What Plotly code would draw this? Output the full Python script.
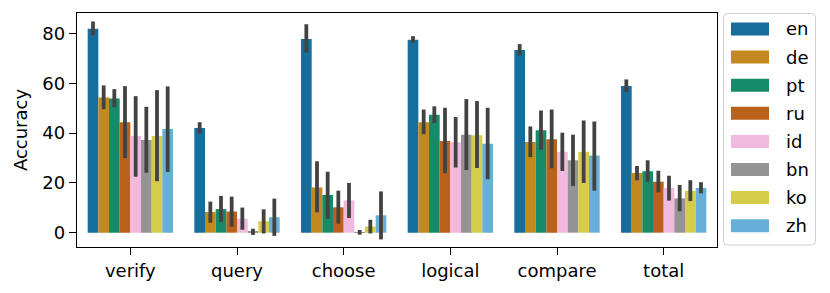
import plotly.graph_objects as go

categories = ["verify", "query", "choose", "logical", "compare", "total"]
languages = ["en", "de", "pt", "ru", "id", "bn", "ko", "zh"]
colors = ["#176d9c", "#c38820", "#158b6a", "#ba611b", "#f1b8e0", "#949494", "#d5cd4a", "#68afd7"]

# mean accuracy per language, per category (verify, query, choose, logical, compare, total)
acc_en = [82.0, 42.1, 77.9, 77.5, 73.4, 59.0]
acc_de = [54.3, 8.3, 18.2, 44.4, 36.5, 24.0]
acc_pt = [53.9, 9.5, 15.2, 47.4, 41.2, 24.7]
acc_ru = [44.4, 8.5, 10.2, 36.9, 37.6, 20.5]
acc_id = [38.9, 5.6, 13.0, 36.4, 32.5, 18.0]
acc_bn = [37.3, 0.4, 0.2, 39.4, 29.1, 13.8]
acc_ko = [38.9, 4.6, 2.5, 39.2, 32.5, 16.8]
acc_zh = [41.7, 6.2, 7.0, 35.7, 31.0, 18.0]

# confidence interval upper / lower bounds
hi_en = [84.9, 44.4, 83.8, 79.0, 75.8, 61.6]
lo_en = [79.3, 39.8, 72.4, 76.3, 71.2, 56.5]
hi_de = [59.2, 12.5, 28.7, 49.5, 42.7, 26.8]
lo_de = [49.6, 4.0, 8.2, 39.6, 30.4, 21.1]
hi_pt = [57.7, 14.8, 24.5, 50.8, 49.1, 29.1]
lo_pt = [50.4, 4.4, 5.6, 44.1, 33.4, 20.5]
hi_ru = [58.9, 14.5, 16.9, 50.2, 49.5, 24.9]
lo_ru = [30.0, 2.4, 3.6, 23.9, 25.9, 16.2]
hi_id = [54.9, 10.1, 20.0, 46.5, 40.2, 22.9]
lo_id = [22.5, 1.2, 5.9, 26.2, 24.8, 12.9]
hi_bn = [50.6, 1.6, 1.1, 53.7, 39.4, 19.2]
lo_bn = [24.1, -0.9, -0.8, 25.2, 18.8, 8.6]
hi_ko = [57.3, 9.4, 5.2, 52.9, 45.1, 21.1]
lo_ko = [20.7, -0.3, -0.3, 26.0, 20.0, 12.7]
hi_zh = [58.8, 13.7, 16.6, 50.2, 44.7, 20.3]
lo_zh = [24.4, -1.3, -2.7, 21.5, 16.9, 15.8]

means = [acc_en, acc_de, acc_pt, acc_ru, acc_id, acc_bn, acc_ko, acc_zh]
highs = [hi_en, hi_de, hi_pt, hi_ru, hi_id, hi_bn, hi_ko, hi_zh]
lows = [lo_en, lo_de, lo_pt, lo_ru, lo_id, lo_bn, lo_ko, lo_zh]

FONT = "DejaVu Sans"
fig = go.Figure()
for lang, col, m, h, l in zip(languages, colors, means, highs, lows):
    fig.add_trace(go.Bar(
        x=categories, y=m, name=lang,
        marker=dict(color=col, line=dict(width=0)),
        error_y=dict(type="data", symmetric=False,
                     array=[hh - mm for hh, mm in zip(h, m)],
                     arrayminus=[mm - ll for mm, ll in zip(m, l)],
                     color="#424242", thickness=3.8, width=0),
        showlegend=False,
    ))

# page body has an 8px default margin -> figure is 8px smaller, offset by 8
OFF = 8
W, H = 830 - OFF, 293 - OFF
L, R, T, B = 77 - OFF, 113, 13 - OFF, 46
pw, ph = W - L - R, H - T - B
def px(x):  # page pixel -> paper x
    return (x - OFF - L) / pw
def py(y):  # page pixel -> paper y
    return (H - B - (y - OFF)) / ph

# rounded legend frame
x0, x1, y0, y1, r = 723.5, 815.5, 13.5, 245.0, 4.0
pts = [
    f"M{px(x0 + r)},{py(y0)}", f"L{px(x1 - r)},{py(y0)}", f"Q{px(x1)},{py(y0)} {px(x1)},{py(y0 + r)}",
    f"L{px(x1)},{py(y1 - r)}", f"Q{px(x1)},{py(y1)} {px(x1 - r)},{py(y1)}",
    f"L{px(x0 + r)},{py(y1)}", f"Q{px(x0)},{py(y1)} {px(x0)},{py(y1 - r)}",
    f"L{px(x0)},{py(y0 + r)}", f"Q{px(x0)},{py(y0)} {px(x0 + r)},{py(y0)}", "Z",
]
shapes = [dict(type="path", xref="paper", yref="paper", path=" ".join(pts),
               line=dict(color="#d0d0d0", width=1), fillcolor="white", layer="above")]
annotations = []
for i, (lang, col) in enumerate(zip(languages, colors)):
    cy = 29 + 28.1 * i
    shapes.append(dict(type="rect", xref="paper", yref="paper",
                       x0=px(731), x1=px(769), y0=py(cy + 6.5), y1=py(cy - 6.5),
                       line=dict(width=0), fillcolor=col, layer="above"))
    annotations.append(dict(xref="paper", yref="paper", x=px(784), y=py(cy),
                            xanchor="left", yanchor="middle", text=lang, showarrow=False,
                            font=dict(family=FONT, size=18, color="black")))

fig.update_layout(
    width=W, height=H,
    margin=dict(l=L, r=R, t=T, b=B, pad=0, autoexpand=False),
    plot_bgcolor="white", paper_bgcolor="white",
    barmode="group", bargap=0.2, bargroupgap=0,
    font=dict(family=FONT, size=18, color="black"),
    shapes=shapes, annotations=annotations,
    showlegend=False,
)
fig.update_xaxes(showline=True, linecolor="black", linewidth=1.3, mirror=True,
                 ticks="outside", ticklen=7, tickwidth=1.3, tickcolor="black",
                 showgrid=False, automargin=False, tickfont=dict(size=18, family=FONT))
fig.update_yaxes(range=[-5.75, 88.3], tickvals=[0, 20, 40, 60, 80],
                 showline=True, linecolor="black", linewidth=1.3, mirror=True,
                 ticks="outside", ticklen=7, tickwidth=1.3, tickcolor="black",
                 showgrid=False, zeroline=False, automargin=False,
                 tickfont=dict(size=18, family=FONT),
                 title=dict(text="Accuracy", font=dict(size=18, family=FONT), standoff=10))

fig.write_html("out.html")
